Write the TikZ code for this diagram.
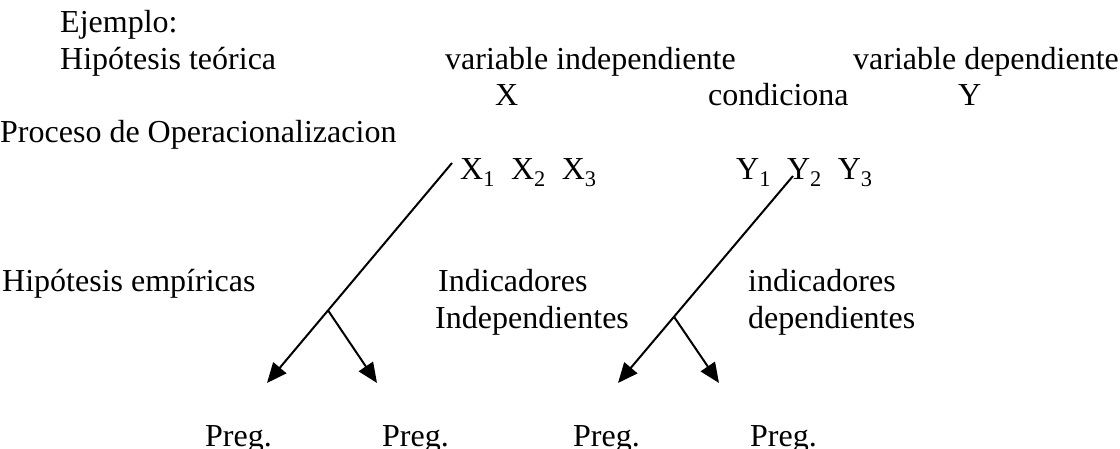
\documentclass[tikz,border=0pt]{standalone}
\usepackage{fontspec}
\setmainfont{Liberation Serif}
\usetikzlibrary{arrows.meta}

\begin{document}
\begin{tikzpicture}[x=1pt,y=-1pt]
\tikzstyle{every node}+=[inner sep=0pt, font=\fontsize{32}{38}\selectfont]
\tikzstyle{lbl}=[anchor=base west]
\tikzstyle{arr}=[-{Triangle[length=20pt,width=17pt]}, line width=2pt]
\useasboundingbox (0,0) rectangle (1120,449);
\clip (0,0) rectangle (1120,449);
% first lines
\draw (60,33) node [lbl] (ejemplo) {Ejemplo:};
\draw (60,70) node [lbl] (teorica) {Hip\'otesis te\'orica};
\draw (445,70) node [lbl] (varind) {variable independiente};
\draw (853,70) node [lbl] (vardep) {variable dependiente};
\draw (495,106) node [lbl] (x) {X};
\draw (708,106) node [lbl] (cond) {condiciona};
\draw (958,106) node [lbl] (y) {Y};
\draw (0,143) node [lbl] (proceso) {Proceso de Operacionalizacion};
\draw (460,180) node [lbl] (xs) {X\textsubscript{1}~~X\textsubscript{2}~~X\textsubscript{3}};
\draw (736,180) node [lbl] (ys) {Y\textsubscript{1}~~Y\textsubscript{2}~~Y\textsubscript{3}};
% indicators
\draw (2,292) node [lbl] (empiricas) {Hip\'otesis emp\'iricas};
\draw (438,292) node [lbl] (indic) {Indicadores};
\draw (435,329) node [lbl] (indep) {Independientes};
\draw (748,292) node [lbl] (indicd) {indicadores};
\draw (748,329) node [lbl] (dep) {dependientes};
% questions
\draw (205,446) node [lbl] (p1) {Preg.};
\draw (382,446) node [lbl] (p2) {Preg.};
\draw (573,446) node [lbl] (p3) {Preg.};
\draw (750,446) node [lbl] (p4) {Preg.};
% arrows
\coordinate (xtop) at (452,163);
\coordinate (xa) at (267,383);
\coordinate (xb) at (377,383);
\coordinate (ytop) at (793,176);
\coordinate (ya) at (618,383);
\coordinate (yb) at (719,383);
\draw [arr] (xtop) -- coordinate[pos=0.67] (xfork) (xa);
\draw [arr] (xfork) -- (xb);
\draw [arr] (ytop) -- coordinate[pos=0.68] (yfork) (ya);
\draw [arr] (yfork) -- (yb);
\end{tikzpicture}
\end{document}
